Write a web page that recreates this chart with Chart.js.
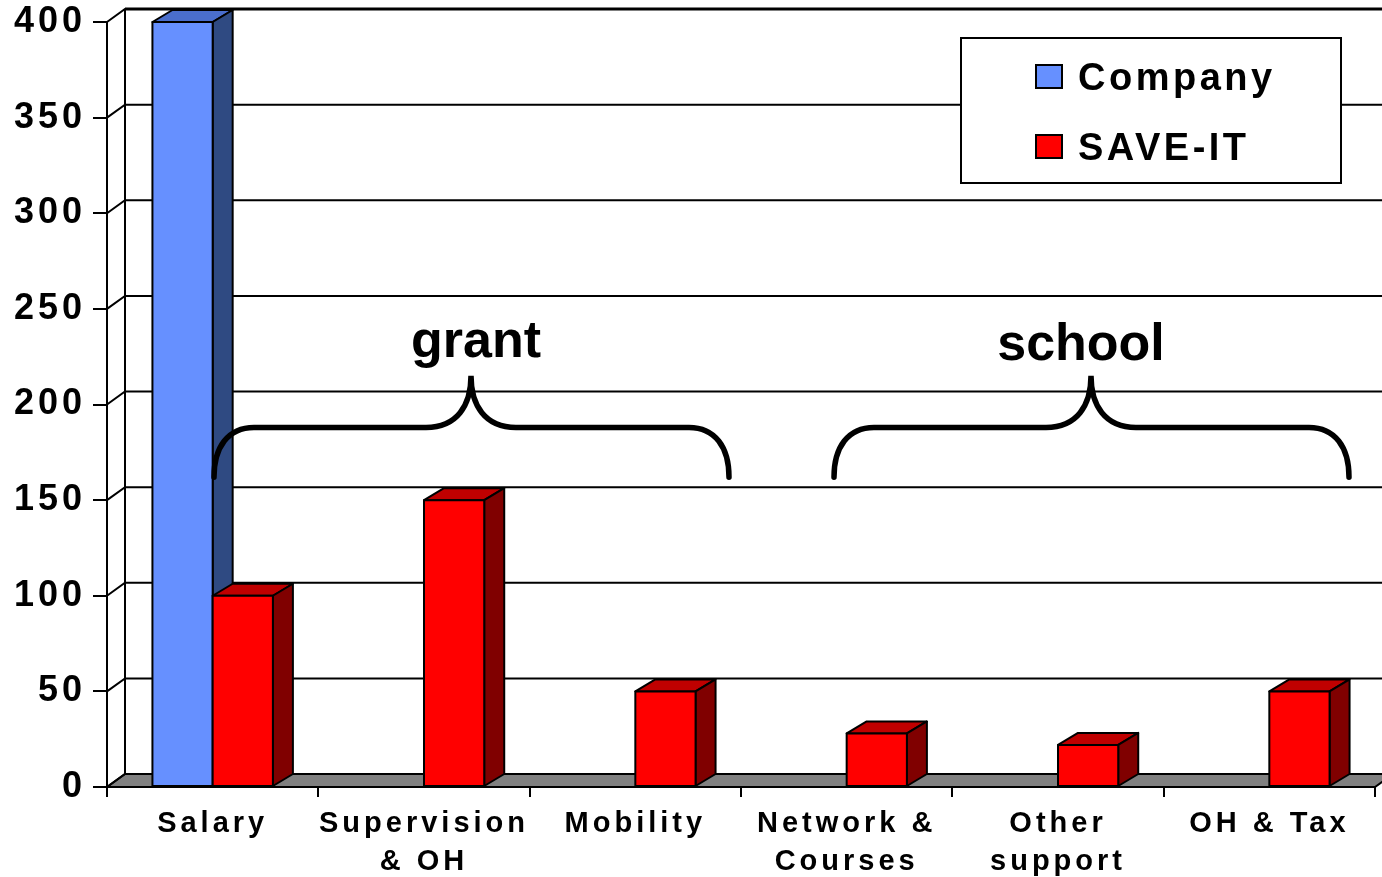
<!DOCTYPE html>
<html>
<head>
<meta charset="utf-8">
<script src="https://cdn.jsdelivr.net/npm/chart.js@4.4.1/dist/chart.umd.min.js"></script>
<style>
html,body{margin:0;padding:0;background:#fff;}
#wrap{width:1382px;height:877px;position:relative;}
</style>
</head>
<body>
<div id="wrap"><canvas id="c"></canvas></div>
<script>
// ---- data ----
const categories = [['Salary'], ['Supervision', '& OH'], ['Mobility'], ['Network &', 'Courses'], ['Other', 'support'], ['OH & Tax']];
const seriesNames = ['Company', 'SAVE-IT'];
const companyValues = [400, null, null, null, null, null];
const saveItValues = [100, 150, 50, 28, 22, 50];
const yTickValues = [0, 50, 100, 150, 200, 250, 300, 350, 400];
const groupLabels = ['grant', 'school'];

// ---- styles ----
const FONT = "'Liberation Sans', Arial, sans-serif";
const WDX = 18, WDY = -13;   // wall depth
const BDX = 20, BDY = -12;   // bar depth
const faceColors = [
  {front: '#6690ff', top: '#4a6ecc', side: '#2f4a82'},
  {front: '#ff0000', top: '#c00000', side: '#800000'}
];

function poly(ctx, pts, fill) {
  ctx.beginPath();
  ctx.moveTo(pts[0][0], pts[0][1]);
  for (let i = 1; i < pts.length; i++) ctx.lineTo(pts[i][0], pts[i][1]);
  ctx.closePath();
  ctx.fillStyle = fill;
  ctx.fill();
  ctx.stroke();
}

function brace(ctx, l, r, tip, yH, yB, yT) {
  const rad = 40;
  ctx.beginPath();
  ctx.moveTo(l, yB);
  ctx.bezierCurveTo(l, yB - 30, l + 14, yH, l + rad, yH);
  ctx.lineTo(tip - 45, yH);
  ctx.bezierCurveTo(tip - 14, yH, tip, yH - 22, tip, yT);
  ctx.bezierCurveTo(tip, yH - 22, tip + 14, yH, tip + 45, yH);
  ctx.lineTo(r - rad, yH);
  ctx.bezierCurveTo(r - 14, yH, r, yB - 30, r, yB);
  ctx.stroke();
}

const threeD = {
  id: 'threeD',
  beforeLayout(chart) { chart.ctx.letterSpacing = '4px'; },
  beforeDraw(chart) { chart.ctx.letterSpacing = '4px'; },
  beforeDatasetsDraw(chart) {
    const {ctx, chartArea: a, scales: {y}} = chart;
    ctx.save();
    ctx.lineWidth = 2;
    ctx.strokeStyle = '#000';
    const yb = y.getPixelForValue(0);
    const yt = y.getPixelForValue(yTickValues[yTickValues.length - 1]);
    // floor
    poly(ctx, [[a.left, yb], [a.right, yb], [a.right + WDX, yb + WDY], [a.left + WDX, yb + WDY]], '#808080');
    // gridlines: left wall diagonals + back wall
    for (const v of yTickValues) {
      const py = y.getPixelForValue(v);
      ctx.beginPath();
      ctx.moveTo(a.left, py);
      ctx.lineTo(a.left + WDX, py + WDY);
      ctx.lineTo(chart.width, py + WDY);
      ctx.stroke();
    }
    ctx.lineWidth = 3;
    ctx.beginPath();
    ctx.moveTo(a.left + WDX, yt + WDY);
    ctx.lineTo(chart.width, yt + WDY);
    ctx.stroke();
    ctx.lineWidth = 2;
    ctx.beginPath();
    ctx.moveTo(a.left + WDX, yt + WDY);
    ctx.lineTo(a.left + WDX, yb + WDY);
    ctx.stroke();
    ctx.beginPath();
    ctx.moveTo(a.left, yt);
    ctx.lineTo(a.left, yb);
    ctx.stroke();
    ctx.restore();
  },
  afterDatasetsDraw(chart) {
    const ctx = chart.ctx;
    ctx.save();
    ctx.lineWidth = 2;
    ctx.strokeStyle = '#000';
    ctx.lineJoin = 'round';
    chart.data.datasets.forEach((ds, i) => {
      const meta = chart.getDatasetMeta(i);
      const c = faceColors[i];
      meta.data.forEach((bar, j) => {
        if (ds.data[j] == null) return;
        const {x, y, base, width} = bar.getProps(['x', 'y', 'base', 'width'], true);
        const l = x - width / 2, r = x + width / 2;
        poly(ctx, [[l, y], [r, y], [r + BDX, y + BDY], [l + BDX, y + BDY]], c.top);
        poly(ctx, [[r, y], [r + BDX, y + BDY], [r + BDX, base + BDY], [r, base]], c.side);
        poly(ctx, [[l, y], [r, y], [r, base], [l, base]], c.front);
      });
    });
    ctx.restore();
  },
  afterDraw(chart) {
    const {ctx, scales: {y}} = chart;
    ctx.save();
    // braces & group labels
    ctx.letterSpacing = '0px';
    ctx.lineWidth = 5.5;
    ctx.strokeStyle = '#000';
    ctx.lineCap = 'round';
    const yH = y.getPixelForValue(188), yB = y.getPixelForValue(162), yT = y.getPixelForValue(215);
    brace(ctx, 214, 729, 471, yH, yB, yT);
    brace(ctx, 834, 1349, 1091, yH, yB, yT);
    ctx.fillStyle = '#000';
    ctx.font = 'bold 52px ' + FONT;
    ctx.textAlign = 'center';
    ctx.textBaseline = 'alphabetic';
    ctx.fillText(groupLabels[0], 476, 357);
    ctx.fillText(groupLabels[1], 1081, 360);
    // legend
    ctx.lineWidth = 2;
    ctx.lineCap = 'butt';
    ctx.fillStyle = '#fff';
    ctx.fillRect(961, 38, 380, 145);
    ctx.strokeRect(961, 38, 380, 145);
    ctx.letterSpacing = '3.5px';
    ctx.font = 'bold 38px ' + FONT;
    ctx.textAlign = 'left';
    const rows = [{my: 65, by: 90}, {my: 135, by: 160}];
    seriesNames.forEach((name, i) => {
      ctx.fillStyle = faceColors[i].front;
      ctx.fillRect(1036, rows[i].my, 26, 23);
      ctx.strokeRect(1036, rows[i].my, 26, 23);
      ctx.fillStyle = '#000';
      ctx.fillText(name, 1078, rows[i].by);
    });
    ctx.restore();
  }
};

new Chart(document.getElementById('c'), {
  type: 'bar',
  data: {
    labels: categories,
    datasets: [
      {label: seriesNames[0], data: companyValues, backgroundColor: faceColors[0].front, borderColor: '#000', borderWidth: 2},
      {label: seriesNames[1], data: saveItValues, backgroundColor: faceColors[1].front, borderColor: '#000', borderWidth: 2}
    ]
  },
  options: {
    responsive: true,
    maintainAspectRatio: false,
    animation: false,
    events: [],
    layout: {padding: {top: 22, right: 7, left: 0, bottom: 0}},
    datasets: {bar: {categoryPercentage: 0.57, barPercentage: 1.0, grouped: true}},
    plugins: {legend: {display: false}, tooltip: {enabled: false}},
    scales: {
      x: {
        offset: true,
        grid: {offset: true, drawOnChartArea: false, drawTicks: true, tickLength: 10, color: '#000', lineWidth: 2},
        border: {display: true, color: '#000', width: 2},
        ticks: {color: '#000', font: {family: FONT, size: 29, weight: 'bold', lineHeight: 1.3}, padding: 8, maxRotation: 0, autoSkip: false},
        afterFit(s) { s.height = 90; }
      },
      y: {
        min: 0, max: 400,
        afterBuildTicks(s) { s.ticks = yTickValues.map(v => ({value: v})); },
        grid: {drawOnChartArea: false, drawTicks: true, tickLength: 14, color: '#000', lineWidth: 2},
        border: {display: true, color: '#000', width: 2},
        ticks: {color: '#000', font: {family: FONT, size: 36, weight: 'bold', lineHeight: 0.8}, padding: 7},
        afterFit(s) { s.width = 107; }
      }
    }
  },
  plugins: [threeD]
});
</script>
</body>
</html>
